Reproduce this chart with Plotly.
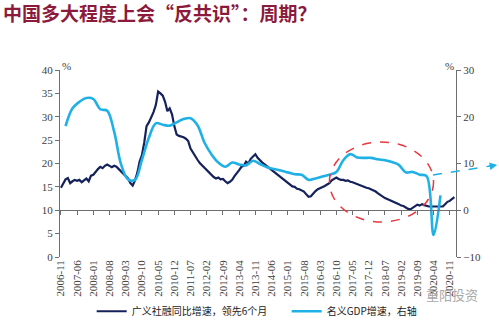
import pandas as pd
import plotly.graph_objects as go

# ---- data -------------------------------------------------------------
# monthly axis, 2006-11 .. 2021-01
months = pd.date_range("2006-11-01", periods=171, freq="MS").strftime("%Y-%m").tolist()

# 广义社融同比增速（领先6个月），%
tsf_growth = [
    14.8, 15.6, 16.6, 16.9, 15.8, 16.2, 16.5, 16.3, 16.5, 16.0,
    16.4, 16.8, 16.2, 17.4, 17.6, 18.3, 18.8, 19.3, 19.0, 19.5,
    19.8, 19.5, 19.2, 19.5, 19.3, 18.8, 18.3, 17.8, 17.2, 16.8,
    15.8, 15.3, 16.4, 18.0, 20.4, 21.8, 24.5, 28.0, 28.8, 29.8,
    31.0, 32.5, 35.4, 35.0, 34.5, 33.2, 31.2, 31.8, 30.5, 28.0,
    26.2, 25.9, 25.8, 25.6, 25.3, 24.8, 23.2, 22.3, 21.5, 20.8,
    20.1, 19.6, 19.0, 18.6, 18.0, 17.4, 17.1, 16.8, 17.0, 16.6,
    16.7, 16.2, 15.8, 16.1, 16.5, 17.3, 18.1, 18.6, 19.3, 19.5,
    20.4, 20.0, 21.0, 21.5, 22.0, 21.2, 20.6, 20.2, 19.8, 19.4,
    19.0, 18.6, 18.3, 17.9, 17.3, 16.9, 16.5, 16.3, 15.8, 15.4,
    15.1, 15.0, 14.6, 14.5, 14.3, 14.0, 13.4, 12.9, 13.0, 13.6,
    14.1, 14.5, 14.7, 15.0, 15.2, 15.5, 15.8, 16.4, 16.8, 17.0,
    16.7, 16.5, 16.5, 16.3, 16.4, 16.1, 16.0, 15.8, 15.6, 15.3,
    15.1, 15.0, 14.8, 14.7, 14.5, 14.3, 14.0, 13.6, 13.2, 12.9,
    12.6, 12.4, 12.2, 12.0, 11.7, 11.5, 11.3, 11.0, 10.9, 10.6,
    10.3, 10.2, 10.6, 11.0, 11.2, 11.0, 11.3, 11.1, 10.9, 10.8,
    10.8, 10.8, 10.8, 10.8, 10.8, 10.8, 11.3, 11.8, 12.0, 12.4,
    12.8,
]

# 名义GDP增速（季度），%，右轴
gdp_months = months[2:165:3]
gdp_growth = [
    18.0, 21.8, 23.2, 24.0, 23.8, 21.6, 21.3, 16.8, 9.8, 6.6,
    6.5, 10.8, 15.5, 18.6, 18.3, 18.1, 18.8, 19.5, 19.7, 18.2,
    14.5, 12.0, 10.2, 9.3, 10.2, 9.8, 9.6, 10.6, 9.9, 9.2,
    8.8, 8.5, 8.1, 7.7, 7.6, 6.5, 6.8, 7.2, 7.6, 8.2,
    10.7, 12.0, 11.3, 11.2, 11.2, 10.9, 10.7, 10.3, 9.7, 8.1,
    8.2, 7.6, 7.3, -5.3, 3.2,
]

tick_labels = [
    "2006-11", "2007-06", "2008-01", "2008-08", "2009-03", "2009-10",
    "2010-05", "2010-12", "2011-07", "2012-02", "2012-09", "2013-04",
    "2013-11", "2014-06", "2015-01", "2015-08", "2016-03", "2016-10",
    "2017-05", "2017-12", "2018-07", "2019-02", "2019-09", "2020-04",
    "2020-11",
]

assert len(tsf_growth) == len(months)
assert len(gdp_growth) == len(gdp_months)

# ---- styling ----------------------------------------------------------
NAVY = "#14215a"
CYAN = "#1fb1e6"
RED = "#e8383d"
AXIS = "#6f6f6f"
TXT = "#404040"
SERIF = "Liberation Serif"
CJK = "Noto Sans CJK SC"

pos = {m: i for i, m in enumerate(months)}
x_tsf = [pos[m] for m in months]
x_gdp = [pos[m] for m in gdp_months]
tick_pos = [pos[m] for m in tick_labels]
x_range = [-0.4, 170.7]

fig = go.Figure()
# social financing growth: left axis, on the axis line crossing at 10%
fig.add_trace(go.Scatter(
    x=x_tsf, y=tsf_growth, mode="lines", name="广义社融同比增速，领先6个月",
    line=dict(color=NAVY, width=2.2), xaxis="x", yaxis="y",
))
# nominal GDP growth: right axis; its x axis carries the date labels at the bottom
fig.add_trace(go.Scatter(
    x=x_gdp, y=gdp_growth, mode="lines", name="名义GDP增速，右轴",
    line=dict(color=CYAN, width=2.6, shape="spline", smoothing=1.0),
    xaxis="x2", yaxis="y2",
))

# highlighted period and extrapolation arrow
shapes = [
    dict(type="circle", xref="x", yref="y", x0=116, x1=161, y0=7.5, y1=24.6,
         line=dict(color=RED, width=1.5, dash="dash")),
    dict(type="line", xref="paper", yref="paper", x0=0.942, y0=0.4385,
         x1=1.100, y1=0.491, line=dict(color=CYAN, width=1.5, dash="dash")),
]

annotations = [
    dict(text="%", xref="paper", yref="paper", x=0.0, y=1.064, showarrow=False,
         font=dict(family=SERIF, size=11, color=TXT)),
    dict(text="%", xref="paper", yref="paper", x=1.0, y=1.064, showarrow=False,
         font=dict(family=SERIF, size=11, color=TXT)),
    dict(text="", xref="paper", yref="paper", x=1.104, y=0.492, showarrow=True,
         ax=-10, ay=1.6, arrowhead=2, arrowsize=1, arrowwidth=1.5,
         arrowcolor=CYAN, standoff=0),
    dict(text="重阳投资", xref="paper", yref="paper", x=1.06, y=-0.262,
         showarrow=False, font=dict(family=CJK, size=13, color="#a8a8a8")),
]

fig.update_layout(
    width=499, height=325,
    margin=dict(l=60, r=43, t=70, b=68, autoexpand=False),
    paper_bgcolor="white", plot_bgcolor="white",
    title=dict(
        text="中国多大程度上会“反共识”：周期？",
        x=0.006, xanchor="left", xref="container",
        y=0.955, yanchor="middle", yref="container",
        font=dict(family=CJK, size=19, color="#8b1a3c", weight="bold"),
    ),
    xaxis=dict(
        range=x_range, anchor="free", position=0.25,
        showline=True, linecolor=AXIS, linewidth=1,
        ticks="outside", ticklen=4, tickcolor=AXIS,
        tickmode="array", tickvals=tick_pos, showticklabels=False,
        showgrid=False, zeroline=False,
    ),
    xaxis2=dict(
        range=x_range, overlaying="x", anchor="free", position=0, side="bottom",
        showline=False, ticks="", tickmode="array",
        tickvals=tick_pos, ticktext=tick_labels, tickangle=-90,
        tickfont=dict(family=SERIF, size=11, color=TXT),
        showgrid=False, zeroline=False,
    ),
    yaxis=dict(
        range=[0, 40], dtick=5, showline=True, linecolor=AXIS, linewidth=1,
        ticks="outside", ticklen=4, tickcolor=AXIS,
        tickfont=dict(family=SERIF, size=11, color=TXT),
        showgrid=False, zeroline=False,
    ),
    yaxis2=dict(
        range=[-10, 30], dtick=10, overlaying="y", side="right", anchor="x",
        showline=True, linecolor=AXIS, linewidth=1,
        ticks="outside", ticklen=4, tickcolor=AXIS,
        tickfont=dict(family=SERIF, size=11, color=TXT),
        showgrid=False, zeroline=False,
    ),
    legend=dict(
        orientation="h", x=0.08, y=-0.29, xanchor="left", yanchor="middle",
        font=dict(family=CJK, size=10, color="#222222"),
        entrywidth=150, entrywidthmode="pixels",
        bgcolor="rgba(0,0,0,0)",
    ),
    shapes=shapes,
    annotations=annotations,
)

fig.write_html("out.html", config={"displayModeBar": False})
